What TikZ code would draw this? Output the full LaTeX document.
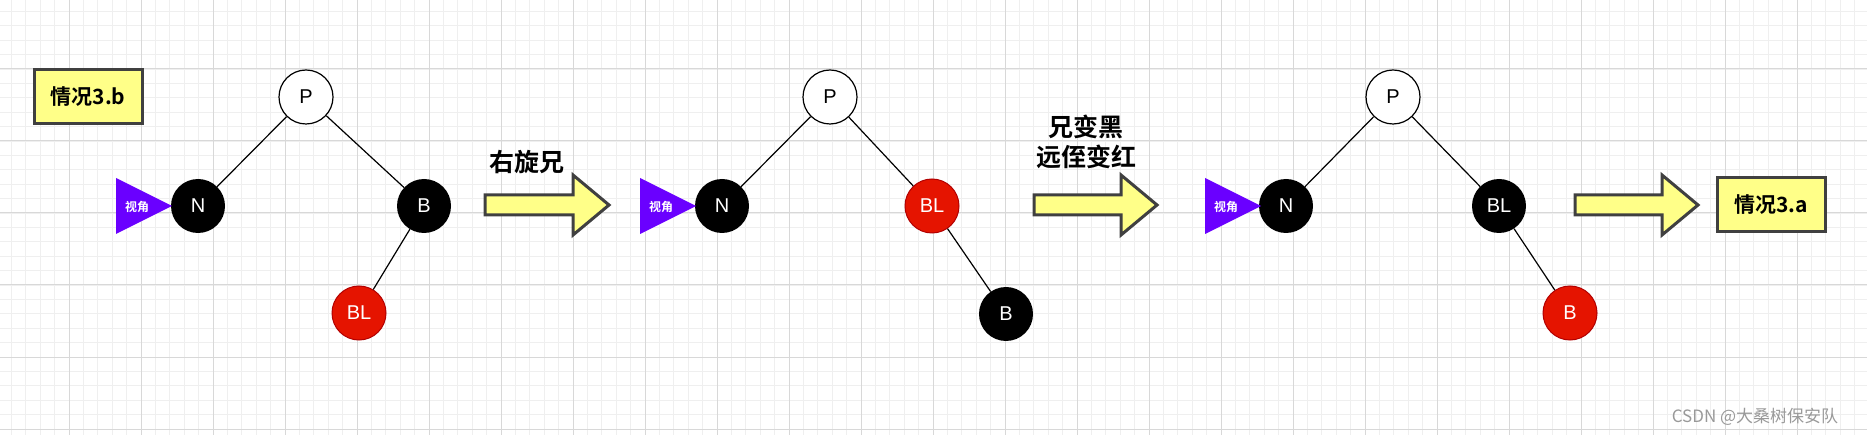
\documentclass[tikz,border=0pt]{standalone}
\usepackage{fontspec}
\setmainfont{Liberation Sans}
\newfontfamily\cjk{Noto Sans CJK SC}[BoldFont={Noto Sans CJK SC Bold}]
\definecolor{nodered}{HTML}{E51400}
\definecolor{redline}{HTML}{B20000}
\definecolor{boxyellow}{HTML}{FFFF88}
\definecolor{viewpurple}{HTML}{6A00FF}
\definecolor{gridmajor}{HTML}{D8D8D8}
\definecolor{gridminor}{HTML}{EFEFEF}
\tikzset{
  rbnode/.style={circle,minimum size=54pt,inner sep=0pt,font=\fontsize{20}{20}\selectfont},
  whitenode/.style={rbnode,draw=black,line width=1.2pt,fill=white},
  blacknode/.style={rbnode,fill=black,text=white},
  rednode/.style={rbnode,draw=redline,line width=1pt,fill=nodered,text=white},
  caselabel/.style={draw=black!75,line width=3pt,fill=boxyellow,minimum width=108pt,minimum height=54pt,font=\cjk\bfseries\fontsize{21}{21}\selectfont},
  steptext/.style={font=\cjk\bfseries\fontsize{25}{30}\selectfont,align=center},
  edge/.style={line width=1.2pt},
  bigarrow/.style={draw=black!75,line width=3pt,fill=boxyellow,line join=miter}
}
\newcommand\viewmark[2]{% tip x, centre y
  \fill[viewpurple] (#1-56,#2-28) -- (#1,#2) -- (#1-56,#2+28) -- cycle;
  \node[text=white,font=\cjk\bfseries\fontsize{12}{12}\selectfont] at (#1-35,#2+1) {视角};}
\newcommand\fatarrow[3]{% left x, right x, centre y
  \draw[bigarrow] (#1,#3-10) -- (#2-36,#3-10) -- (#2-36,#3-30) -- (#2,#3)
    -- (#2-36,#3+30) -- (#2-36,#3+10) -- (#1,#3+10) -- cycle;}
\begin{document}
\begin{tikzpicture}[x=1pt,y=-1pt]
  \useasboundingbox (0,0) rectangle (1867,435);
  % grid
  \foreach \g in {0,...,130} {
    \draw[gridminor,line width=0.8pt] ({-3+14.4*\g},0) -- ({-3+14.4*\g},435);
  }
  \foreach \g in {0,...,31} {
    \draw[gridminor,line width=0.8pt] (0,{-3+14.4*\g}) -- (1867,{-3+14.4*\g});
  }
  \foreach \g in {0,...,26} {
    \draw[gridmajor,line width=1pt] ({-3+72*\g},0) -- ({-3+72*\g},435);
  }
  \foreach \g in {0,...,6} {
    \draw[gridmajor,line width=1pt] (0,{-3+72*\g}) -- (1867,{-3+72*\g});
  }

  % case 3.b
  \node[caselabel] (case3b) at (88,97) {情况3.b};
  \node[whitenode] (p1) at (306,97) {P};
  \node[blacknode] (n1) at (198,206) {N};
  \node[blacknode] (b1) at (424,206) {B};
  \node[rednode] (bl1) at (359,313) {BL};
  \draw[edge] (p1) -- (n1);
  \draw[edge] (p1) -- (b1);
  \draw[edge] (b1) -- (bl1);
  \viewmark{172}{206}

  \fatarrow{485}{609}{205}
  \node[steptext] (rot) at (527,162) {右旋兄};

  % after rotation
  \node[whitenode] (p2) at (830,97) {P};
  \node[blacknode] (n2) at (722,206) {N};
  \node[rednode] (bl2) at (932,206) {BL};
  \node[blacknode] (b2) at (1006,314) {B};
  \draw[edge] (p2) -- (n2);
  \draw[edge] (p2) -- (bl2);
  \draw[edge] (bl2) -- (b2);
  \viewmark{696}{206}

  \fatarrow{1034}{1157}{205}
  \node[steptext] (recolor) at (1086,142) {兄变黑\\远侄变红};

  % after recolouring
  \node[whitenode] (p3) at (1393,97) {P};
  \node[blacknode] (n3) at (1286,206) {N};
  \node[blacknode] (bl3) at (1499,206) {BL};
  \node[rednode] (b3) at (1570,313) {B};
  \draw[edge] (p3) -- (n3);
  \draw[edge] (p3) -- (bl3);
  \draw[edge] (bl3) -- (b3);
  \viewmark{1261}{206}

  \fatarrow{1575}{1698}{205}
  \node[caselabel] (case3a) at (1771,205) {情况3.a};

  \node[text=black!40,font=\cjk\fontsize{17}{17}\selectfont] (mark) at (1755,417) {CSDN @大桑树保安队};
\end{tikzpicture}
\end{document}
